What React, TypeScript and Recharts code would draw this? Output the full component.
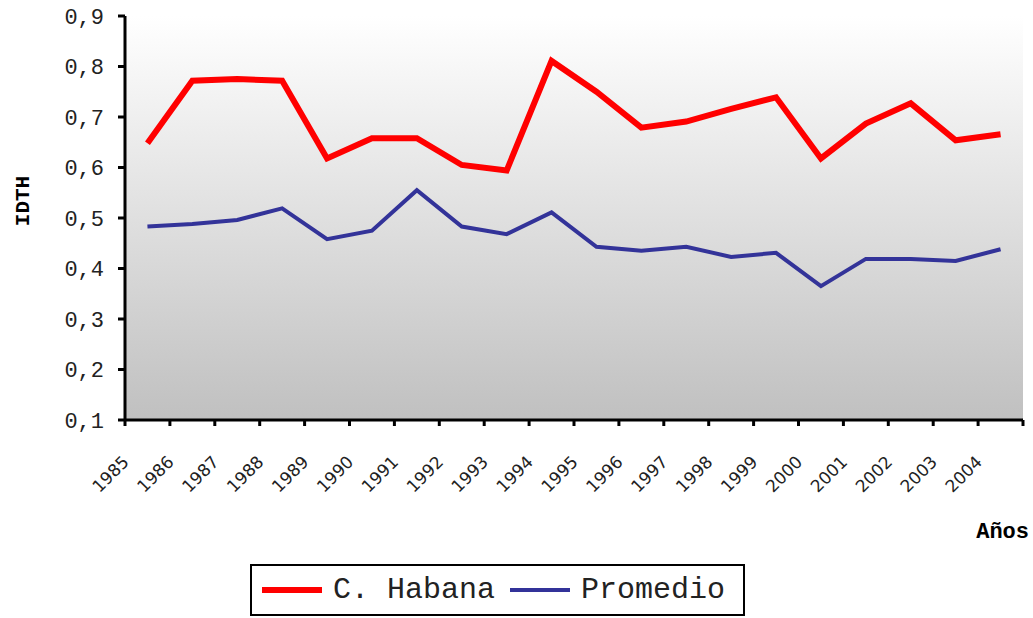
import React from 'react';
import { LineChart, Line, XAxis, YAxis, CartesianGrid, Label } from 'recharts';

const years = ['1985','1986','1987','1988','1989','1990','1991','1992','1993','1994','1995','1996','1997','1998','1999','2000','2001','2002','2003','2004'];
const habana = [0.648, 0.772, 0.775, 0.772, 0.618, 0.658, 0.658, 0.605, 0.594, 0.811, 0.750, 0.679, 0.691, 0.716, 0.739, 0.618, 0.687, 0.727, 0.654, 0.666];
const promedio = [0.483, 0.488, 0.496, 0.519, 0.458, 0.475, 0.555, 0.483, 0.468, 0.511, 0.443, 0.435, 0.443, 0.423, 0.431, 0.365, 0.419, 0.419, 0.415, 0.438];
const yTicks = [0.1, 0.2, 0.3, 0.4, 0.5, 0.6, 0.7, 0.8, 0.9];
const seriesNames = ['C. Habana', 'Promedio'];
const seriesColors = ['#ff0000', '#333399'];

const data = years.map((y, i) => ({ pos: i + 0.5, year: y, habana: habana[i], promedio: promedio[i] }));
const xTicks = years.map((_, i) => i).concat([years.length]);

const mono = '"Courier New", "Liberation Mono", monospace';

const XTick = (props: any) => {
  const { x, y, payload } = props;
  const idx = payload.value;
  if (idx >= years.length) return null;
  return (
    <text
      transform={`translate(${x + 5},${y + 35}) rotate(-45)`}
      textAnchor="end"
      fontFamily='Verdana, "DejaVu Sans", sans-serif'
      fontSize={17}
      fill="#222"
    >
      {years[idx]}
    </text>
  );
};

export default function App() {
  return (
    <div style={{ position: 'absolute', left: 0, top: 0, width: 1033, height: 618, background: '#fff' }}>
      <LineChart width={1033} height={618} data={data} margin={{ top: 16, right: 10, bottom: 0, left: 0 }}>
        <defs>
          <linearGradient id="bg" x1="0" y1="0" x2="0" y2="1">
            <stop offset="0%" stopColor="#ffffff" />
            <stop offset="100%" stopColor="#c0c0c0" />
          </linearGradient>
        </defs>
        <CartesianGrid horizontal={false} vertical={false} fill="url(#bg)" />
        <XAxis
          dataKey="pos"
          type="number"
          domain={[0, years.length]}
          ticks={xTicks}
          interval={0}
          height={198}
          axisLine={{ stroke: '#000', strokeWidth: 3 }}
          tickLine={{ stroke: '#000', strokeWidth: 3 }}
          tickSize={6}
          tick={<XTick />}
        >
          <Label
            content={() => (
              <text x={1029} y={538} textAnchor="end" fontFamily={mono} fontWeight="bold" fontSize={22} fill="#000">
                Años
              </text>
            )}
          />
        </XAxis>
        <YAxis
          type="number"
          domain={[0.1, 0.9]}
          ticks={yTicks}
          width={125}
          interval={0}
          axisLine={{ stroke: '#000', strokeWidth: 3 }}
          tickLine={{ stroke: '#000', strokeWidth: 3 }}
          tickSize={7}
          tickMargin={14}
          tickFormatter={(v: number) => v.toFixed(1).replace('.', ',')}
          tick={{ fontFamily: mono, fontSize: 22, fill: '#222' }}
        >
          <Label
            content={() => (
              <text
                transform="translate(29,201) rotate(-90)"
                textAnchor="middle"
                fontFamily={mono}
                fontWeight="bold"
                fontSize={21}
                fill="#000"
              >
                IDTH
              </text>
            )}
          />
        </YAxis>
        <Line dataKey="habana" name={seriesNames[0]} stroke={seriesColors[0]} strokeWidth={6} dot={false} isAnimationActive={false} strokeLinejoin="miter" />
        <Line dataKey="promedio" name={seriesNames[1]} stroke={seriesColors[1]} strokeWidth={4} dot={false} isAnimationActive={false} strokeLinejoin="miter" />
      </LineChart>
      <div
        style={{
          position: 'absolute',
          left: 250,
          top: 564,
          width: 491,
          height: 48,
          border: '2px solid #000',
          boxSizing: 'content-box',
          display: 'flex',
          alignItems: 'center',
          fontFamily: mono,
          fontSize: 30,
          color: '#222',
          background: '#fff',
        }}
      >
        {seriesNames.map((n, i) => (
          <div key={n} style={{ display: 'flex', alignItems: 'center', marginLeft: i === 0 ? 10 : 15 }}>
            <div style={{ width: 60, height: i === 0 ? 6 : 4, background: seriesColors[i], marginRight: 11 }} />
            <span>{n}</span>
          </div>
        ))}
      </div>
    </div>
  );
}
